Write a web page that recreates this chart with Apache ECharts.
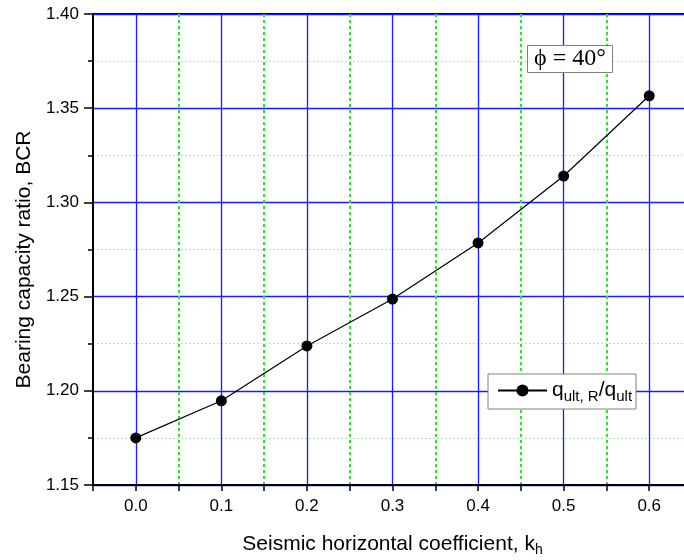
<!DOCTYPE html>
<html>
<head>
<meta charset="utf-8">
<script src="https://cdn.jsdelivr.net/npm/echarts@6/dist/echarts.min.js"></script>
<style>
  html, body { margin: 0; padding: 0; background: #fff; }
  #chart { width: 684px; height: 560px; }
</style>
</head>
<body>
<div id="chart"></div>
<script>
// seismic coefficient vs bearing capacity ratio
const kh = [0.0, 0.1, 0.2, 0.3, 0.4, 0.5, 0.6]
const bcr = [1.175, 1.1947, 1.2238, 1.2487, 1.2785, 1.314, 1.3566]
const seriesName = 'q{sub|ult, R}/q{sub|ult}'
const phiLabel = 'ϕ = 40°'

const font = 'Liberation Sans, Arial, sans-serif'
const myChart = echarts.init(document.getElementById('chart'))

// majors every 0.1, minors between (min -0.05 so step 0.05 and color cycle)
const isMajorX = v => Math.abs(Math.round(v * 100) % 10) === 0

let option = {
    animation: false,
    backgroundColor: '#fff',
    title: {
        text: phiLabel,
        left: 527,
        top: 45,
        padding: [2, 7, 2, 7],
        backgroundColor: '#fff',
        borderColor: '#808080',
        borderWidth: 1,
        textStyle: {
            fontFamily: 'Liberation Serif, DejaVu Serif, serif',
            fontSize: 24,
            fontWeight: 'normal',
            color: '#000'
        }
    },
    legend: {
        left: 488,
        top: 374,
        padding: [6, 4, 5, 9],
        backgroundColor: '#fff',
        borderColor: '#808080',
        borderWidth: 1,
        itemWidth: 49,
        itemHeight: 15,
        itemGap: 4,
        formatter: () => seriesName,
        textStyle: {
            fontFamily: font,
            fontSize: 21,
            color: '#000',
            rich: {
                sub: { fontFamily: font, fontSize: 15, padding: [12, 0, 0, 0] }
            }
        }
    },
    grid: {
        left: 93,
        top: 14,
        width: 599,
        bottom: 75,
        show: true,
        borderColor: '#000',
        borderWidth: 2,
        containLabel: false,
        outerBoundsMode: 'none'
    },
    xAxis: [
        {
            type: 'value',
            min: -0.05,
            max: 0.65,
            interval: 0.05,
            name: 'Seismic horizontal coefficient, k{sub|h}',
            nameLocation: 'middle',
            nameGap: 46,
            nameTextStyle: {
                fontFamily: font,
                fontSize: 21,
                color: '#000',
                rich: {
                    sub: { fontFamily: font, fontSize: 14, padding: [12, 0, 0, 0] }
                }
            },
            axisLine: { onZero: false, lineStyle: { color: '#000', width: 2 } },
            axisTick: { length: 6, lineStyle: { color: '#000', width: 1.5 } },
            axisLabel: {
                margin: 13,
                fontFamily: font,
                fontSize: 17,
                color: '#000',
                formatter: v => (isMajorX(v) && v > -0.01 && v < 0.61) ? Math.abs(v).toFixed(1) : ''
            },
            splitLine: {
                show: true,
                lineStyle: { color: ['#33dd33', 'transparent'], width: 2, type: [3, 3] }
            }
        },
        {
            type: 'value',
            min: -0.05,
            max: 0.65,
            interval: 0.05,
            axisLine: { show: false },
            axisTick: { show: false },
            axisLabel: { show: false },
            splitLine: {
                show: true,
                lineStyle: { color: ['transparent', '#1a1aff'], width: 1.3 }
            }
        }
    ],
    yAxis: {
        type: 'value',
        min: 1.15,
        max: 1.40,
        interval: 0.05,
        name: 'Bearing capacity ratio, BCR',
        nameLocation: 'middle',
        nameGap: 58,
        nameTextStyle: {
            fontFamily: font,
            fontSize: 21,
            color: '#000',
            padding: [0, 20, 0, 0]
        },
        axisLine: { onZero: false, lineStyle: { color: '#000', width: 2 } },
        axisTick: { length: 9, lineStyle: { color: '#000', width: 1.5 } },
        minorTick: { show: true, splitNumber: 2, length: 5, lineStyle: { color: '#000', width: 1.5 } },
        axisLabel: {
            margin: 14,
            fontFamily: font,
            fontSize: 17,
            color: '#000',
            formatter: v => v.toFixed(2)
        },
        splitLine: { lineStyle: { color: '#1a1aff', width: 1.3 } },
        minorSplitLine: { show: true, lineStyle: { color: '#b4e8b4', width: 1, type: [2, 2] } }
    },
    series: [
        {
            name: seriesName,
            type: 'line',
            xAxisIndex: 0,
            yAxisIndex: 0,
            data: kh.map((x, i) => [x, bcr[i]]),
            symbol: 'circle',
            symbolSize: 11,
            itemStyle: { color: '#000' },
            lineStyle: { color: '#000', width: 1.2 },
            z: 5
        }
    ]
}

option && myChart.setOption(option)
</script>
</body>
</html>
